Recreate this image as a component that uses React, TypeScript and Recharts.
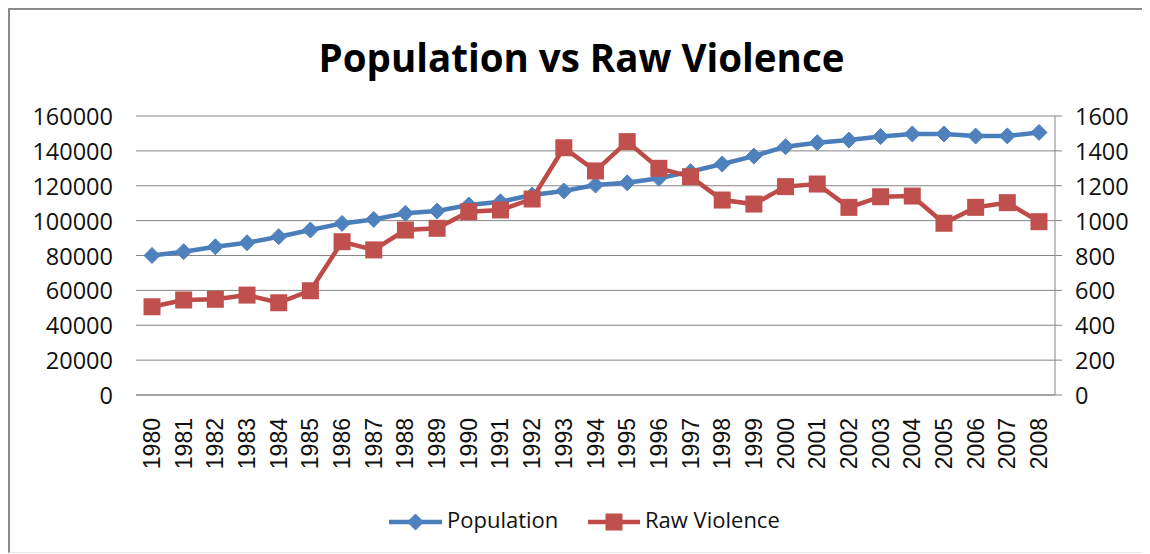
import { LineChart, Line, XAxis, YAxis, CartesianGrid } from 'recharts';

const years = [
  '1980', '1981', '1982', '1983', '1984', '1985', '1986', '1987', '1988', '1989',
  '1990', '1991', '1992', '1993', '1994', '1995', '1996', '1997', '1998', '1999',
  '2000', '2001', '2002', '2003', '2004', '2005', '2006', '2007', '2008',
];

const population = [
  80000, 82200, 85000, 87300, 90800, 94600, 98400, 100700, 104200, 105500,
  109000, 110800, 114700, 117000, 120400, 121700, 124300, 128100, 132500, 137000,
  142400, 144700, 146200, 148200, 149700, 149700, 148500, 148600, 150600,
];

const rawViolence = [
  506, 545, 549, 573, 529, 598, 879, 832, 946, 956,
  1051, 1061, 1124, 1418, 1285, 1453, 1300, 1252, 1118, 1095,
  1195, 1210, 1076, 1137, 1141, 985, 1076, 1103, 994,
];

const populationTicks = [0, 20000, 40000, 60000, 80000, 100000, 120000, 140000, 160000];
const violenceTicks = [0, 200, 400, 600, 800, 1000, 1200, 1400, 1600];

const data = years.map((year, i) => ({
  year,
  population: population[i],
  violence: rawViolence[i],
}));

const BLUE_LINE = '#4A7EBB';
const BLUE_FILL = '#4F81BD';
const RED_LINE = '#BE4B48';
const RED_FILL = '#C0504D';
const GRID = '#868686';
const LABEL_FONT = '"Open Sans", sans-serif';

const W = 1142;
const H = 546;

function Diamond({ cx, cy, r = 8 }: { cx: number; cy: number; r?: number }) {
  return (
    <path
      d={`M${cx},${cy - r} L${cx + r},${cy} L${cx},${cy + r} L${cx - r},${cy} Z`}
      fill={BLUE_FILL}
      stroke={BLUE_FILL}
      strokeWidth={1}
    />
  );
}

function Square({ cx, cy, s = 17 }: { cx: number; cy: number; s?: number }) {
  return <rect x={cx - s / 2} y={cy - s / 2} width={s} height={s} fill={RED_FILL} />;
}

function YearTick({ x, y, payload }: any) {
  return (
    <text
      x={x}
      y={y}
      transform={`rotate(-90, ${x}, ${y})`}
      textAnchor="end"
      dominantBaseline="central"
      fontFamily='"Liberation Sans", Arial, sans-serif'
      fontSize={23}
      fill="#111"
    >
      {payload.value}
    </text>
  );
}

function ValueTick({ x, y, payload, textAnchor }: any) {
  return (
    <text
      x={x}
      y={y}
      textAnchor={textAnchor}
      dominantBaseline="central"
      fontFamily={LABEL_FONT}
      fontSize={23.5}
      fill="#111"
    >
      {payload.value}
    </text>
  );
}

export default function App() {
  return (
    <div style={{ position: 'relative', width: W, height: H, overflow: 'hidden', background: '#fff' }}>
      {/* chart frame: left and top edges, faint bottom edge, open on the right */}
      <div
        style={{
          position: 'absolute',
          left: 0,
          top: 0,
          width: W,
          height: 545,
          borderTop: '2px solid #8a8a8a',
          borderLeft: '2px solid #8a8a8a',
          borderBottom: '1px solid #e6e6e6',
          boxSizing: 'border-box',
        }}
      />
      <div style={{ position: 'absolute', left: 0, top: 0 }}>
        <LineChart width={W} height={H} data={data} margin={{ top: 108, right: 15, bottom: 99, left: 0 }}>
          <CartesianGrid yAxisId="left" vertical={false} stroke={GRID} strokeWidth={1} />
          <XAxis
            dataKey="year"
            interval={0}
            height={60}
            padding={{ left: 16, right: 16 }}
            axisLine={{ stroke: GRID }}
            tickLine={false}
            tickSize={0}
            tickMargin={23}
            tick={<YearTick />}
          />
          <YAxis
            yAxisId="left"
            orientation="left"
            width={128}
            domain={[0, 160000]}
            ticks={populationTicks}
            interval={0}
            axisLine={false}
            tickLine={false}
            tickSize={0}
            tickMargin={23}
            tick={<ValueTick />}
          />
          <YAxis
            yAxisId="right"
            orientation="right"
            width={80}
            domain={[0, 1600]}
            ticks={violenceTicks}
            interval={0}
            axisLine={{ stroke: GRID }}
            tickLine={{ stroke: GRID }}
            tickSize={7}
            tickMargin={13}
            tick={<ValueTick />}
          />
          <Line
            yAxisId="left"
            dataKey="population"
            stroke={BLUE_LINE}
            strokeWidth={4.5}
            isAnimationActive={false}
            dot={(p: any) => <Diamond key={`pd-${p.index}`} cx={p.cx} cy={p.cy} />}
            activeDot={false}
          />
          <Line
            yAxisId="right"
            dataKey="violence"
            stroke={RED_LINE}
            strokeWidth={4.5}
            isAnimationActive={false}
            dot={(p: any) => <Square key={`vd-${p.index}`} cx={p.cx} cy={p.cy} />}
            activeDot={false}
          />
        </LineChart>
      </div>
      <svg
        width={W}
        height={H}
        style={{ position: 'absolute', left: 0, top: 0, pointerEvents: 'none' }}
      >
        <text
          x={573.5}
          y={64}
          textAnchor="middle"
          fontFamily={LABEL_FONT}
          fontWeight={700}
          fontSize={38.5}
          fill="#000"
        >
          Population vs Raw Violence
        </text>
        <g>
          <line x1={381} y1={514} x2={434} y2={514} stroke={BLUE_LINE} strokeWidth={4.5} />
          <Diamond cx={407.5} cy={514} />
          <text x={439} y={520} fontFamily={LABEL_FONT} fontSize={22} fill="#111">
            Population
          </text>
          <line x1={580} y1={514} x2={632} y2={514} stroke={RED_LINE} strokeWidth={4.5} />
          <Square cx={606} cy={514} />
          <text x={637} y={520} fontFamily={LABEL_FONT} fontSize={22} fill="#111">
            Raw Violence
          </text>
        </g>
      </svg>
    </div>
  );
}
